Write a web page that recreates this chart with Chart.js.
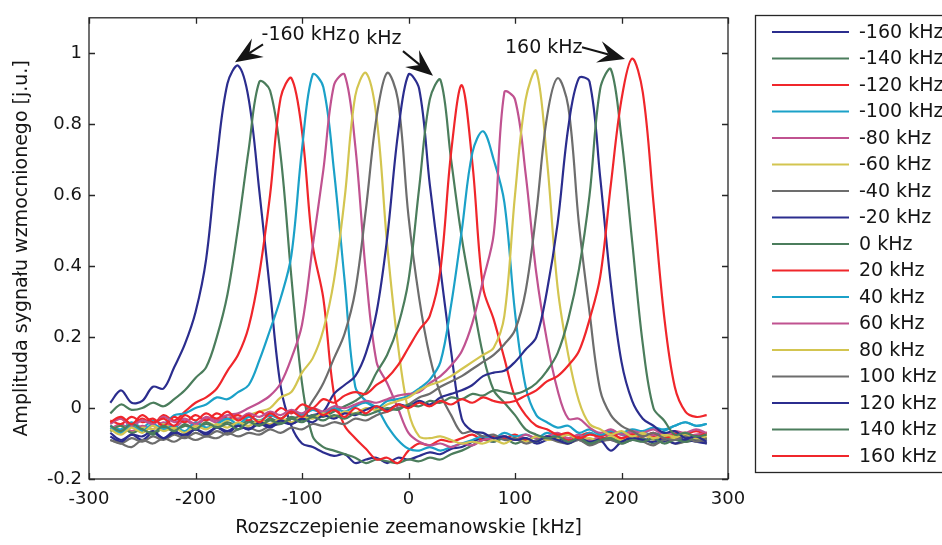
<!DOCTYPE html>
<html>
<head>
<meta charset="utf-8">
<script src="https://cdn.jsdelivr.net/npm/chart.js@4.4.0/dist/chart.umd.min.js"></script>
<style>
  html, body { margin: 0; padding: 0; background: #fff; }
  canvas { display: block; }
</style>
</head>
<body>
<canvas id="chart" width="942" height="545"></canvas>
<script>
'use strict';

// zeeman splitting grid, kHz (-280 .. 280, step 10)
const splitting = [
  -280, -270, -260, -250, -240, -230, -220, -210, -200, -190,
  -180, -170, -160, -150, -140, -130, -120, -110, -100, -90,
  -80, -70, -60, -50, -40, -30, -20, -10, 0, 10,
  20, 30, 40, 50, 60, 70, 80, 90, 100, 110,
  120, 130, 140, 150, 160, 170, 180, 190, 200, 210,
  220, 230, 240, 250, 260, 270, 280
];

const detuneLabels = ['-160 kHz', '-140 kHz', '-120 kHz', '-100 kHz', '-80 kHz', '-60 kHz',
  '-40 kHz', '-20 kHz', '0 kHz', '20 kHz', '40 kHz', '60 kHz', '80 kHz', '100 kHz',
  '120 kHz', '140 kHz', '160 kHz'];

const xTicks = [-300, -200, -100, 0, 100, 200, 300];
const yTicks = [-0.2, 0, 0.2, 0.4, 0.6, 0.8, 1];

// amplitude of the amplified signal [a.u.], one array per detuning
const ampM160 = [
  0.015, 0.05, 0.015, 0.02, 0.06, 0.055, 0.115, 0.18, 0.27, 0.42,
  0.70, 0.915, 0.965, 0.87, 0.61, 0.33, 0.06, -0.05, -0.10, -0.11,
  -0.125, -0.135, -0.13, -0.155, -0.145, -0.14, -0.155, -0.14, -0.145, -0.135,
  -0.125, -0.13, -0.115, -0.11, -0.095, -0.085, -0.095, -0.08, -0.09, -0.085,
  -0.10, -0.09, -0.085, -0.095, -0.09, -0.10, -0.085, -0.09, -0.095, -0.08,
  -0.09, -0.085, -0.095, -0.08, -0.09, -0.085, -0.10
];
const ampM140 = [
  -0.015, 0.01, -0.005, 0.0, 0.015, 0.005, 0.025, 0.05, 0.085, 0.115,
  0.20, 0.32, 0.51, 0.73, 0.92, 0.895, 0.71, 0.37, 0.07, -0.08,
  -0.11, -0.12, -0.13, -0.14, -0.155, -0.145, -0.15, -0.155, -0.145, -0.15,
  -0.14, -0.145, -0.13, -0.12, -0.105, -0.09, -0.095, -0.085, -0.10, -0.09,
  -0.095, -0.08, -0.09, -0.10, -0.085, -0.095, -0.09, -0.08, -0.095, -0.09,
  -0.085, -0.10, -0.09, -0.085, -0.095, -0.09, -0.085
];
const ampM120 = [
  -0.04, -0.03, -0.05, -0.03, -0.045, -0.02, -0.035, -0.01, 0.015, 0.03,
  0.055, 0.105, 0.15, 0.23, 0.38, 0.60, 0.875, 0.93, 0.78, 0.46,
  0.31, 0.04, -0.05, -0.085, -0.115, -0.145, -0.14, -0.155, -0.12, -0.10,
  -0.105, -0.09, -0.095, -0.085, -0.075, -0.09, -0.08, -0.085, -0.075, -0.09,
  -0.08, -0.085, -0.075, -0.09, -0.08, -0.07, -0.085, -0.08, -0.07, -0.085,
  -0.075, -0.08, -0.07, -0.085, -0.075, -0.065, -0.075
];
const ampM100 = [
  -0.05, -0.06, -0.04, -0.055, -0.035, -0.045, -0.02, -0.015, 0.0, 0.01,
  0.03, 0.025, 0.045, 0.065, 0.135, 0.22, 0.31, 0.43, 0.73, 0.94,
  0.905, 0.67, 0.36, 0.06, 0.02, 0.0, -0.05, -0.09, -0.115, -0.12,
  -0.11, -0.12, -0.11, -0.10, -0.09, -0.08, -0.085, -0.07, -0.08, -0.075,
  -0.085, -0.07, -0.08, -0.075, -0.085, -0.07, -0.08, -0.065, -0.075, -0.08,
  -0.07, -0.075, -0.065, -0.05, -0.04, -0.05, -0.045
];
const ampM80 = [
  -0.06, -0.045, -0.065, -0.05, -0.06, -0.04, -0.055, -0.035, -0.05, -0.03,
  -0.04, -0.02, -0.015, 0.0, 0.015, 0.035, 0.07, 0.14, 0.235, 0.455,
  0.67, 0.91, 0.94, 0.74, 0.38, 0.13, 0.07, 0.0, -0.07, -0.095,
  -0.105, -0.10, -0.11, -0.10, -0.105, -0.09, -0.085, -0.08, -0.09, -0.075,
  -0.085, -0.08, -0.07, -0.085, -0.075, -0.09, -0.08, -0.075, -0.085, -0.07,
  -0.08, -0.075, -0.085, -0.07, -0.08, -0.075, -0.07
];
const ampM60 = [
  -0.065, -0.05, -0.07, -0.055, -0.06, -0.045, -0.06, -0.05, -0.055, -0.04,
  -0.05, -0.035, -0.03, -0.02, -0.01, 0.0, 0.03, 0.045, 0.10, 0.14,
  0.22, 0.36, 0.59, 0.88, 0.945, 0.82, 0.46, 0.18, -0.01, -0.08,
  -0.085, -0.08, -0.09, -0.10, -0.095, -0.10, -0.09, -0.10, -0.085, -0.095,
  -0.08, -0.09, -0.085, -0.075, -0.09, -0.085, -0.095, -0.08, -0.09, -0.085,
  -0.075, -0.09, -0.08, -0.085, -0.075, -0.09, -0.08
];
const ampM40 = [
  -0.09, -0.10, -0.085, -0.095, -0.08, -0.09, -0.075, -0.085, -0.07, -0.08,
  -0.065, -0.075, -0.06, -0.055, -0.065, -0.05, -0.045, -0.03, -0.02, 0.02,
  0.07, 0.14, 0.21, 0.33, 0.56, 0.82, 0.945, 0.87, 0.54, 0.31,
  0.145, 0.04, -0.02, -0.07, -0.065, -0.08, -0.075, -0.09, -0.085, -0.10,
  -0.09, -0.085, -0.095, -0.10, -0.09, -0.105, -0.095, -0.09, -0.10, -0.09,
  -0.095, -0.105, -0.09, -0.10, -0.095, -0.09, -0.10
];
const ampM20 = [
  -0.08, -0.095, -0.075, -0.09, -0.07, -0.085, -0.065, -0.08, -0.06, -0.075,
  -0.055, -0.07, -0.05, -0.06, -0.045, -0.055, -0.04, -0.045, -0.03, -0.02,
  -0.01, 0.04, 0.065, 0.09, 0.155, 0.27, 0.48, 0.77, 0.94, 0.9,
  0.63, 0.39, 0.16, -0.03, -0.065, -0.07, -0.085, -0.08, -0.09, -0.085,
  -0.095, -0.08, -0.09, -0.10, -0.085, -0.095, -0.09, -0.12, -0.095, -0.085,
  -0.09, -0.095, -0.085, -0.10, -0.09, -0.095, -0.10
];
const amp0 = [
  -0.065, -0.05, -0.07, -0.06, -0.075, -0.055, -0.065, -0.05, -0.06, -0.045,
  -0.055, -0.04, -0.05, -0.035, -0.045, -0.03, -0.04, -0.025, -0.035, -0.02,
  -0.025, -0.01, 0.005, 0.02, 0.045, 0.10, 0.15, 0.23, 0.36, 0.62,
  0.87, 0.925, 0.70, 0.48, 0.31, 0.15, 0.05, 0.015, -0.02, -0.06,
  -0.075, -0.085, -0.08, -0.095, -0.085, -0.10, -0.09, -0.085, -0.10, -0.09,
  -0.095, -0.085, -0.10, -0.09, -0.095, -0.085, -0.09
];
const ampP20 = [
  -0.035, -0.045, -0.025, -0.04, -0.03, -0.05, -0.025, -0.04, -0.02, -0.035,
  -0.015, -0.03, -0.02, -0.035, -0.01, -0.025, 0.0, -0.015, 0.01, 0.0,
  0.025, 0.015, 0.035, 0.045, 0.04, 0.065, 0.085, 0.12, 0.17, 0.22,
  0.26, 0.39, 0.72, 0.91, 0.69, 0.34, 0.25, 0.14, 0.03, -0.02,
  -0.05, -0.06, -0.075, -0.07, -0.085, -0.075, -0.08, -0.07, -0.085, -0.075,
  -0.08, -0.07, -0.085, -0.075, -0.07, -0.08, -0.07
];
const ampP40 = [
  -0.055, -0.07, -0.05, -0.065, -0.045, -0.06, -0.05, -0.065, -0.04, -0.055,
  -0.045, -0.03, -0.045, -0.025, -0.035, -0.02, -0.03, -0.01, -0.02, -0.005,
  -0.015, 0.0, -0.01, 0.005, 0.015, 0.0, 0.02, 0.025, 0.035, 0.055,
  0.08, 0.13, 0.29, 0.50, 0.72, 0.78, 0.70, 0.58, 0.27, 0.06,
  -0.02, -0.04, -0.055, -0.05, -0.07, -0.06, -0.075, -0.065, -0.07, -0.06,
  -0.065, -0.055, -0.06, -0.05, -0.04, -0.05, -0.045
];
const ampP60 = [
  -0.045, -0.03, -0.05, -0.035, -0.045, -0.025, -0.04, -0.03, -0.045, -0.025,
  -0.035, -0.02, -0.03, -0.015, -0.025, -0.01, -0.02, -0.005, -0.015, 0.0,
  -0.01, 0.005, 0.0, 0.01, 0.02, 0.015, 0.025, 0.035, 0.04, 0.045,
  0.07, 0.09, 0.12, 0.16, 0.24, 0.36, 0.49, 0.89, 0.87, 0.66,
  0.38, 0.19, 0.05, -0.03, -0.03, -0.055, -0.07, -0.06, -0.075, -0.065,
  -0.07, -0.06, -0.075, -0.065, -0.07, -0.06, -0.07
];
const ampP80 = [
  -0.06, -0.075, -0.055, -0.07, -0.05, -0.065, -0.055, -0.07, -0.05, -0.06,
  -0.045, -0.055, -0.04, -0.05, -0.035, -0.045, -0.03, -0.04, -0.025, -0.03,
  -0.015, -0.025, -0.01, -0.015, 0.0, -0.005, 0.01, 0.02, 0.03, 0.05,
  0.065, 0.075, 0.09, 0.11, 0.13, 0.15, 0.17, 0.26, 0.60, 0.87,
  0.95, 0.70, 0.34, 0.15, 0.02, -0.045, -0.06, -0.075, -0.065, -0.08,
  -0.07, -0.085, -0.075, -0.08, -0.07, -0.085, -0.075
];
const ampP100 = [
  -0.09, -0.10, -0.11, -0.09, -0.10, -0.085, -0.095, -0.08, -0.09, -0.08,
  -0.085, -0.07, -0.08, -0.07, -0.075, -0.06, -0.07, -0.055, -0.06, -0.045,
  -0.05, -0.04, -0.045, -0.03, -0.035, -0.02, -0.01, 0.0, 0.01, 0.03,
  0.04, 0.06, 0.075, 0.09, 0.11, 0.13, 0.15, 0.18, 0.22, 0.33,
  0.55, 0.82, 0.93, 0.85, 0.52, 0.27, 0.05, -0.02, -0.05, -0.065,
  -0.08, -0.07, -0.085, -0.09, -0.08, -0.095, -0.085
];
const ampP120 = [
  -0.07, -0.09, -0.075, -0.08, -0.065, -0.085, -0.07, -0.075, -0.06, -0.07,
  -0.055, -0.065, -0.05, -0.06, -0.04, -0.05, -0.035, -0.045, -0.03, -0.04,
  -0.02, -0.03, -0.015, -0.02, -0.005, 0.005, -0.005, 0.01, 0.005, 0.02,
  0.01, 0.03, 0.04, 0.05, 0.065, 0.09, 0.10, 0.105, 0.13, 0.165,
  0.20, 0.33, 0.52, 0.79, 0.93, 0.92, 0.65, 0.35, 0.13, 0.02,
  -0.03, -0.05, -0.07, -0.065, -0.085, -0.08, -0.095
];
const ampP140 = [
  -0.05, -0.065, -0.045, -0.06, -0.07, -0.05, -0.065, -0.045, -0.06, -0.04,
  -0.055, -0.045, -0.06, -0.04, -0.05, -0.035, -0.045, -0.03, -0.04, -0.025,
  -0.035, -0.02, -0.03, -0.015, -0.02, -0.01, 0.0, -0.005, 0.01, 0.005,
  0.02, 0.015, 0.03, 0.025, 0.04, 0.035, 0.05, 0.045, 0.04, 0.05,
  0.07, 0.105, 0.155, 0.25, 0.39, 0.60, 0.90, 0.955, 0.76, 0.47,
  0.18, 0.0, -0.035, -0.075, -0.07, -0.08, -0.075
];
const ampP160 = [
  -0.04, -0.025, -0.045, -0.02, -0.04, -0.03, -0.05, -0.02, -0.035, -0.015,
  -0.03, -0.01, -0.035, -0.02, -0.04, -0.015, -0.03, -0.01, -0.025, 0.0,
  -0.02, -0.005, -0.025, 0.0, -0.015, 0.005, -0.01, 0.01, 0.0, 0.015,
  0.005, 0.02, 0.01, 0.025, 0.015, 0.03, 0.02, 0.015, 0.02, 0.035,
  0.05, 0.075, 0.09, 0.12, 0.16, 0.25, 0.37, 0.63, 0.87, 0.985,
  0.89, 0.58, 0.26, 0.06, -0.01, -0.025, -0.02
];

const allAmps = [ampM160, ampM140, ampM120, ampM100, ampM80, ampM60, ampM40, ampM20,
  amp0, ampP20, ampP40, ampP60, ampP80, ampP100, ampP120, ampP140, ampP160];

// matlab-ish line colour cycle
const cycle = ['#2b2d8e', '#4b7d5c', '#f0262b', '#1ba1c8', '#c05290', '#d3c550', '#6d6d6d'];

// arrows with labels, in data units
const callouts = [
  { text: '-160 kHz', tx: -138, ty: 1.05, from: [-136.6, 1.025], to: [-162.9, 0.975] },
  { text: '0 kHz', tx: -56.8, ty: 1.039, from: [-5.2, 1.006], to: [23.0, 0.937] },
  { text: '160 kHz', tx: 90.6, ty: 1.016, from: [162.9, 1.017], to: [203.3, 0.984] }
];

const FONT = '"DejaVu Sans", "Liberation Sans", Arial, sans-serif';
const INK = '#151515';

let datasets = allAmps.map((amps, i) => ({
  label: detuneLabels[i],
  data: amps.map((v, k) => ({ x: splitting[k], y: v })),
  borderColor: cycle[i % cycle.length],
  borderWidth: 2.2,
  pointRadius: 0,
  tension: 0.35,
  fill: false,
  order: allAmps.length - 1 - i
}));

function drawArrow(ctx, x0, y0, x1, y1) {
  let ang = Math.atan2(y1 - y0, x1 - x0);
  let len = 27, half = 11, notch = 17;
  ctx.beginPath();
  ctx.moveTo(x0, y0);
  ctx.lineTo(x1 - Math.cos(ang) * notch, y1 - Math.sin(ang) * notch);
  ctx.stroke();
  ctx.save();
  ctx.translate(x1, y1);
  ctx.rotate(ang);
  ctx.beginPath();
  ctx.moveTo(0, 0);
  ctx.lineTo(-len, -half);
  ctx.lineTo(-notch, 0);
  ctx.lineTo(-len, half);
  ctx.closePath();
  ctx.fill();
  ctx.restore();
}

const framePlugin = {
  id: 'frame',
  afterDatasetsDraw(chart) {
    let { ctx, chartArea: a, scales: { x, y } } = chart;
    ctx.save();
    ctx.strokeStyle = '#262626';
    ctx.lineWidth = 1.3;
    ctx.strokeRect(a.left, a.top, a.right - a.left, a.bottom - a.top);
    ctx.beginPath();
    xTicks.forEach(v => {
      let px = Math.round(x.getPixelForValue(v)) + 0.5;
      ctx.moveTo(px, a.bottom); ctx.lineTo(px, a.bottom - 6);
      ctx.moveTo(px, a.top); ctx.lineTo(px, a.top + 6);
    });
    yTicks.forEach(v => {
      let py = Math.round(y.getPixelForValue(v)) + 0.5;
      ctx.moveTo(a.left, py); ctx.lineTo(a.left + 6, py);
      ctx.moveTo(a.right, py); ctx.lineTo(a.right - 6, py);
    });
    ctx.stroke();

    // callouts
    ctx.fillStyle = INK;
    ctx.strokeStyle = INK;
    ctx.lineWidth = 2;
    ctx.font = '19px ' + FONT;
    ctx.textBaseline = 'middle';
    ctx.textAlign = 'left';
    callouts.forEach(c => {
      ctx.fillText(c.text, x.getPixelForValue(c.tx), y.getPixelForValue(c.ty));
      drawArrow(ctx,
        x.getPixelForValue(c.from[0]), y.getPixelForValue(c.from[1]),
        x.getPixelForValue(c.to[0]), y.getPixelForValue(c.to[1]));
    });
    ctx.restore();
  }
};

const legendPlugin = {
  id: 'sideLegend',
  afterDraw(chart) {
    let ctx = chart.ctx;
    ctx.save();
    ctx.strokeStyle = '#262626';
    ctx.lineWidth = 1.3;
    ctx.strokeRect(755.5, 15.5, 220, 457);
    ctx.font = '19px ' + FONT;
    ctx.textBaseline = 'middle';
    ctx.textAlign = 'left';
    chart.data.datasets.forEach((ds, i) => {
      let rowY = 32 + 26.5 * i;
      ctx.strokeStyle = ds.borderColor;
      ctx.lineWidth = 2.2;
      ctx.beginPath();
      ctx.moveTo(772, rowY);
      ctx.lineTo(849, rowY);
      ctx.stroke();
      ctx.fillStyle = INK;
      ctx.fillText(ds.label, 859, rowY + 1);
    });
    ctx.restore();
  }
};

let ctx = document.getElementById('chart');
let myChart = new Chart(ctx, {
  type: 'line',
  data: { datasets: datasets },
  options: {
    responsive: false,
    animation: false,
    devicePixelRatio: 1,
    layout: { padding: { left: 0, right: 214, top: 8, bottom: 0 } },
    plugins: { legend: { display: false }, tooltip: { enabled: false } },
    scales: {
      x: {
        type: 'linear',
        min: -300,
        max: 300,
        afterFit: s => { s.height = 66; },
        afterBuildTicks: s => { s.ticks = xTicks.map(v => ({ value: v })); },
        grid: { display: false, drawTicks: false },
        border: { display: false },
        ticks: {
          padding: 10,
          maxRotation: 0,
          color: INK,
          font: { family: FONT, size: 18 },
          callback: v => String(v)
        },
        title: {
          display: true,
          text: 'Rozszczepienie zeemanowskie [kHz]',
          color: INK,
          font: { family: FONT, size: 19 },
          padding: { top: 0, bottom: 6 }
        }
      },
      y: {
        type: 'linear',
        min: -0.2,
        max: 1.1,
        afterFit: s => { s.width = 89; },
        afterBuildTicks: s => { s.ticks = yTicks.map(v => ({ value: v })); },
        grid: { display: false, drawTicks: false },
        border: { display: false },
        ticks: {
          padding: 7,
          color: INK,
          font: { family: FONT, size: 18 },
          callback: v => String(Math.round(v * 10) / 10)
        },
        title: {
          display: true,
          text: 'Amplituda sygnału wzmocnionego [j.u.]',
          color: INK,
          font: { family: FONT, size: 19 },
          padding: { top: 11, bottom: 0 }
        }
      }
    }
  },
  plugins: [framePlugin, legendPlugin]
});
</script>
</body>
</html>
